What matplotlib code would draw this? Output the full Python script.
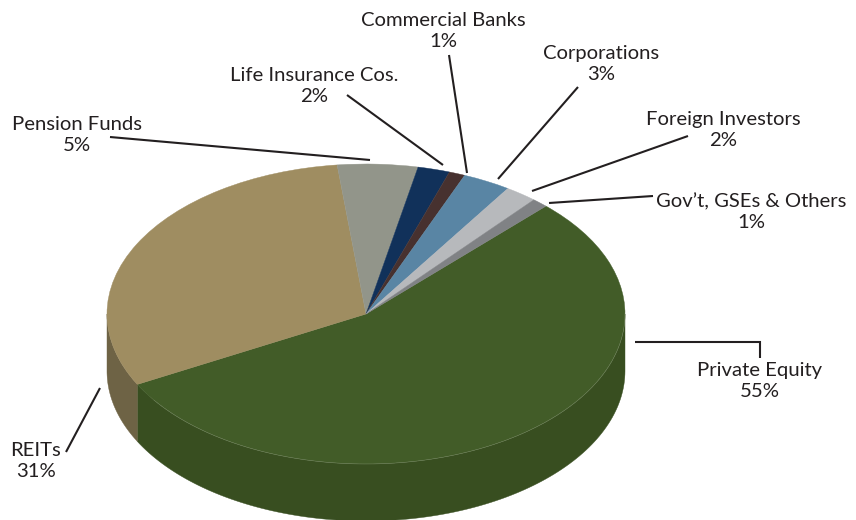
import numpy as np
import matplotlib
matplotlib.use('Agg')
import matplotlib.pyplot as plt

plt.rcParams['font.family'] = ['Lato', 'DejaVu Sans']

names = ['Private Equity', 'REITs', 'Pension Funds', 'Life Insurance Cos.',
         'Commercial Banks', 'Corporations', 'Foreign Investors', "Gov\u2019t, GSEs & Others"]
shares = [55, 31, 5, 2, 1, 3, 2, 1]
top_colors = ['#425c28', '#9f8d61', '#92958a', '#11315a', '#47312f', '#5985a4', '#b7b9bc', '#808285']
wall_colors = ['#384e20', '#6e6345', '#6e7068', '#0c2442', '#342422', '#436379', '#8a8c8e', '#606163']

# pie geometry, in pixels
W, H = 856, 520
cx, cy = 366, 314
rx, ry = 259, 150
depth = 57 / ry
start = 46

fig = plt.figure(figsize=(W / 100, H / 100), dpi=100)

# axes scaled so the unit pie lands on the flattened ellipse
ax = fig.add_axes([0, 0, 1, 1])
wedges, _ = ax.pie(shares, colors=top_colors, startangle=start, counterclock=False,
                   center=(0, 0), radius=1,
                   wedgeprops={'linewidth': 0.3, 'zorder': 3})
for w, c in zip(wedges, top_colors):
    w.set_edgecolor(c)
ax.set_aspect('auto')
ax.set_xlim(-cx / rx, (W - cx) / rx)
ax.set_ylim(-(H - cy) / ry, cy / ry)
ax.axis('off')

# side wall: only the part of each slice on the front half shows
edges = start - np.cumsum([0] + shares) * 3.6
for i, c in enumerate(wall_colors):
    a1 = min(edges[i], 0)
    a0 = max(edges[i + 1], -180)
    if a1 <= a0:
        continue
    t = np.radians(np.linspace(a0, a1, 120))
    xs = np.r_[np.cos(t), np.cos(t[::-1])]
    ys = np.r_[np.sin(t), np.sin(t[::-1]) - depth]
    ax.fill(xs, ys, color=c, lw=0.3, zorder=2)

# pale rim along the front of the top face
t = np.radians(np.linspace(-145, 0, 200))
ax.plot(np.cos(t), np.sin(t), color='#c9cfc0', lw=0.4, alpha=0.3, zorder=4)

# overlay in pixel coordinates for labels and leader lines
ov = fig.add_axes([0, 0, 1, 1])
ov.set_xlim(0, W)
ov.set_ylim(H, 0)
ov.axis('off')
ov.patch.set_alpha(0)

label_pos = [(760, 381), (36, 461), (77, 135), (314, 86),
             (443, 31), (601, 64), (723, 130), (751, 212)]
leaders = [[(635, 342), (760, 342), (760, 358)],
           [(100, 388), (66, 452)],
           [(110, 137), (370, 160)],
           [(347, 95), (443, 165)],
           [(449, 55), (467, 173)],
           [(578, 87), (498, 179)],
           [(688, 136), (532, 191)],
           [(653, 196), (549, 203)]]

for name, share, pos, line in zip(names, shares, label_pos, leaders):
    ov.text(pos[0], pos[1], f'{name}\n{share}%', ha='center', va='center',
            fontsize=14.6, color='#231f20', linespacing=1.22)
    lx, ly = zip(*line)
    ov.plot(lx, ly, color='#231f20', lw=1.5, solid_joinstyle='miter', solid_capstyle='butt')

fig.savefig('out.png', dpi=100)
